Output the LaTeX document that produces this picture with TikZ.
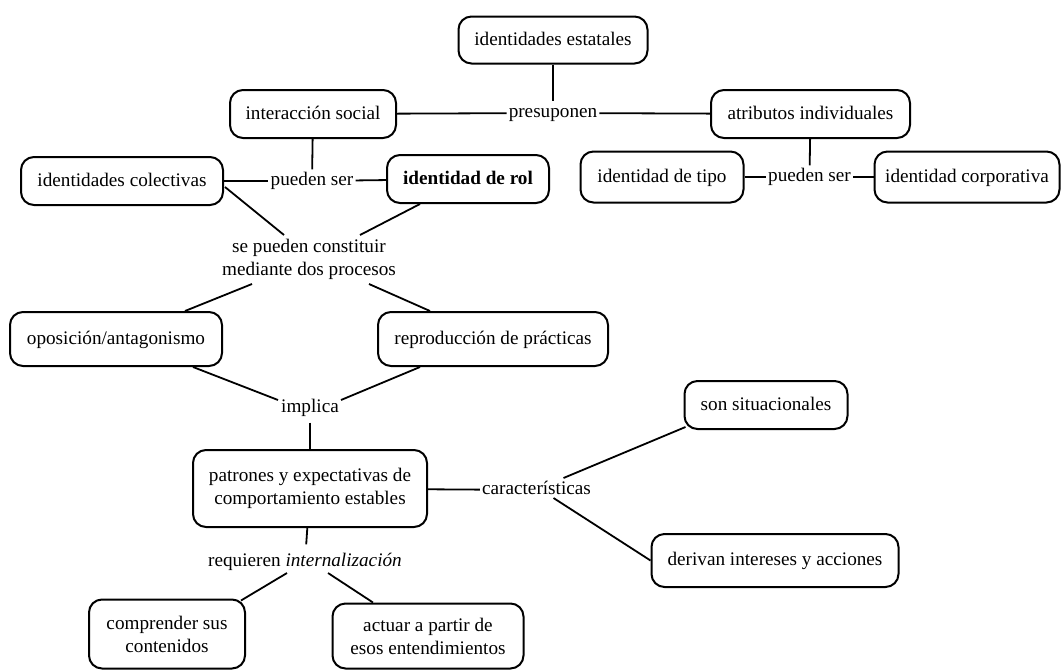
\documentclass[tikz,border=0pt]{standalone}
\usepackage{fontspec}
\setmainfont{Liberation Serif}
\usetikzlibrary{calc}
\newcommand\fsz{\fontsize{19.2pt}{23pt}\selectfont}
\begin{document}
\begin{tikzpicture}[x=1pt,y=-1pt,
  box/.style={draw, line width=2pt, rounded corners=13pt, inner sep=0pt, align=center, font=\fsz, text height=13pt, text depth=3pt},
  boxtwo/.style={draw, line width=2pt, rounded corners=13pt, inner sep=0pt, align=center, font=\fsz},
  lbl/.style={inner xsep=2pt, inner ysep=3pt, align=center, font=\fsz, text height=13pt, text depth=4pt},
  lbltwo/.style={inner sep=0pt, align=center, font=\fsz},
  conn/.style={line width=1.8pt}]
\fill[white] (0,0) rectangle (1062,670);
\useasboundingbox (0,0) rectangle (1062,670);

% boxes
\node[box, minimum width=189pt, minimum height=47pt] (estat) at (553,40) {identidades estatales};
\node[box, minimum width=166pt, minimum height=48pt] (inter) at (313,114) {interacción social};
\node[box, minimum width=199pt, minimum height=48pt] (atrib) at (810.5,114) {atributos individuales};
\node[box, minimum width=202pt, minimum height=48pt] (colect) at (122,181) {identidades colectivas};
\node[box, minimum width=162pt, minimum height=48pt, font=\fsz\bfseries] (rol) at (468,179) {identidad de rol};
\node[box, minimum width=163pt, minimum height=51pt] (tipo) at (662,177) {identidad de tipo};
\node[box, minimum width=185pt, minimum height=51pt] (corp) at (967,177) {identidad corporativa};
\node[box, minimum width=212pt, minimum height=54pt] (opos) at (116,339) {oposición/antagonismo};
\node[box, minimum width=230pt, minimum height=54pt] (repro) at (493,339) {reproducción de prácticas};
\node[boxtwo, minimum width=234pt, minimum height=77pt] (patron) at (310,488.5) {patrones y expectativas de\\comportamiento estables};
\node[box, minimum width=163pt, minimum height=48pt] (situ) at (766,405) {son situacionales};
\node[box, minimum width=247pt, minimum height=53pt] (deriv) at (775,560.5) {derivan intereses y acciones};
\node[boxtwo, minimum width=156pt, minimum height=69pt] (compr) at (167,634) {comprender sus\\contenidos};
\node[boxtwo, minimum width=191pt, minimum height=65pt] (actuar) at (428,636) {actuar a partir de\\esos entendimientos};

% labels
\node[lbl] (presup) at (553,113) {presuponen};
\node[lbl] (pser1) at (312,181) {pueden ser};
\node[lbl] (pser2) at (809.5,177) {pueden ser};
\node[lbltwo] (constit) at (309,259) {se pueden constituir\\mediante dos procesos};
\node[lbl] (implica) at (310,408) {implica};
\node[lbl] (caract) at (536.5,490) {características};
\node[lbl] (requ) at (305,562) {requieren \textit{internalización}};

% connectors
\draw[conn] (estat) -- (presup);
\draw[conn] (inter) -- (presup);
\draw[conn] (presup) -- (atrib);
\draw[conn] (inter) -- (pser1);
\draw[conn] (colect) -- (pser1);
\draw[conn] (pser1) -- (rol);
\draw[conn] (atrib) -- (pser2);
\draw[conn] (tipo) -- (pser2);
\draw[conn] (pser2) -- (corp);
\draw[conn] ($(colect.east)+(1,6)$) -- ($(constit)+(-25,-24)$);
\draw[conn] ($(rol.south)+(-48,0)$) -- ($(constit)+(51,-24)$);
\draw[conn] ($(constit)+(-57,25)$) -- ($(opos.north)+(69,0)$);
\draw[conn] ($(constit)+(60,25)$) -- ($(repro.north)+(-63,0)$);
\draw[conn] ($(opos.south)+(77,0)$) -- ($(implica)+(-32,-8)$);
\draw[conn] ($(repro.south)+(-73,0)$) -- ($(implica)+(31,-8)$);
\draw[conn, shorten <=3pt] (implica) -- (patron);
\draw[conn] (patron) -- (caract);
\draw[conn] ($(caract)+(27,-12)$) -- ($(situ.south west)+(2,-3)$);
\draw[conn] ($(caract)+(17,8)$) -- (deriv.west);
\draw[conn, shorten >=6pt] (patron) -- (requ);
\draw[conn] ($(requ)+(-18,11)$) -- ($(compr.north east)+(-5,2)$);
\draw[conn] ($(requ)+(23,11)$) -- ($(actuar.north)+(-55,0)$);
\end{tikzpicture}
\end{document}
